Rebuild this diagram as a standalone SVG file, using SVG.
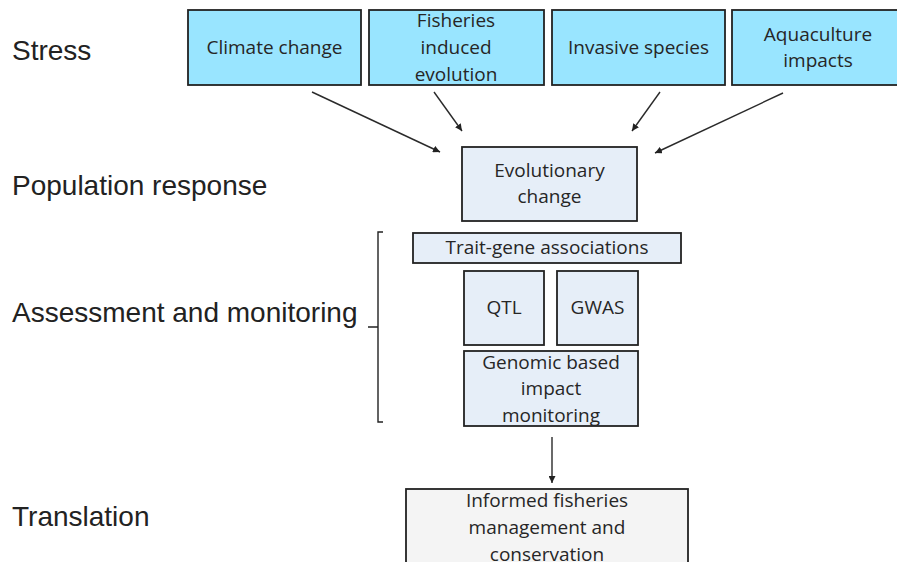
<svg xmlns="http://www.w3.org/2000/svg" width="897" height="562" viewBox="0 0 897 562">
<defs>
<marker id="ah" viewBox="0 0 10 10" refX="10" refY="5" markerWidth="7" markerHeight="7" markerUnits="userSpaceOnUse" orient="auto">
<path d="M0,0 L10,5 L0,10 z" fill="#222"/>
</marker>
<style>
.lbl{font-family:"Liberation Sans",Arial,sans-serif;font-size:28px;fill:#222}
.bt{font-family:"Open Sans","Noto Sans",sans-serif;font-size:19px;fill:#262626;text-anchor:middle}
.stress{fill:#99E5FF;stroke:#222;stroke-width:1.8}
.evo{fill:#E6EEF8;stroke:#222;stroke-width:1.8}
.out{fill:#F4F4F4;stroke:#222;stroke-width:1.8}
.conn{stroke:#2a2a2a;stroke-width:1.4;fill:none;marker-end:url(#ah)}
</style>
</defs>
<rect width="897" height="562" fill="#fff"/>
<g id="labels">
<text class="lbl" x="12" y="60">Stress</text>
<text class="lbl" x="12" y="195">Population response</text>
<text class="lbl" x="12" y="322">Assessment and monitoring</text>
<text class="lbl" x="12" y="526">Translation</text>
</g>
<g id="bracket">
<path d="M383,232 H378 V422 H383 M378,327 H368" fill="none" stroke="#222" stroke-width="1.4"/>
</g>
<g id="n-climate">
<rect class="stress" x="188" y="10" width="173" height="75"/>
<text class="bt" x="274.5" y="54">Climate change</text>
</g>
<g id="n-fisheries">
<rect class="stress" x="369" y="10" width="175" height="75"/>
<text class="bt" x="456" y="27">Fisheries</text>
<text class="bt" x="456" y="54">induced</text>
<text class="bt" x="456" y="81">evolution</text>
</g>
<g id="n-invasive">
<rect class="stress" x="552" y="10" width="173" height="75"/>
<text class="bt" x="638.5" y="54">Invasive species</text>
</g>
<g id="n-aquaculture">
<rect class="stress" x="732" y="10" width="180" height="75"/>
<text class="bt" x="818" y="41">Aquaculture</text>
<text class="bt" x="818" y="67">impacts</text>
</g>
<g id="n-evolutionary">
<rect class="evo" x="462" y="147" width="175" height="74"/>
<text class="bt" x="549.5" y="177">Evolutionary</text>
<text class="bt" x="549.5" y="203">change</text>
</g>
<g id="n-trait">
<rect class="evo" x="413" y="233" width="268" height="30"/>
<text class="bt" x="547" y="254">Trait-gene associations</text>
</g>
<g id="n-qtl">
<rect class="evo" x="464" y="271" width="80" height="74"/>
<text class="bt" x="504" y="314">QTL</text>
</g>
<g id="n-gwas">
<rect class="evo" x="557" y="271" width="81" height="74"/>
<text class="bt" x="597.5" y="314">GWAS</text>
</g>
<g id="n-genomic">
<rect class="evo" x="464" y="351" width="174" height="75"/>
<text class="bt" x="551" y="369">Genomic based</text>
<text class="bt" x="551" y="395">impact</text>
<text class="bt" x="551" y="422">monitoring</text>
</g>
<g id="n-informed">
<rect class="out" x="406" y="489" width="282" height="90"/>
<text class="bt" x="547" y="507">Informed fisheries</text>
<text class="bt" x="547" y="534">management and</text>
<text class="bt" x="547" y="561">conservation</text>
</g>
<g id="connectors">
<line class="conn" x1="312" y1="92" x2="440" y2="152"/>
<line class="conn" x1="434" y1="92" x2="462" y2="131"/>
<line class="conn" x1="660" y1="92" x2="632" y2="131"/>
<line class="conn" x1="783" y1="93" x2="655" y2="153"/>
<line class="conn" x1="552" y1="437" x2="552" y2="483"/>
</g>
</svg>
